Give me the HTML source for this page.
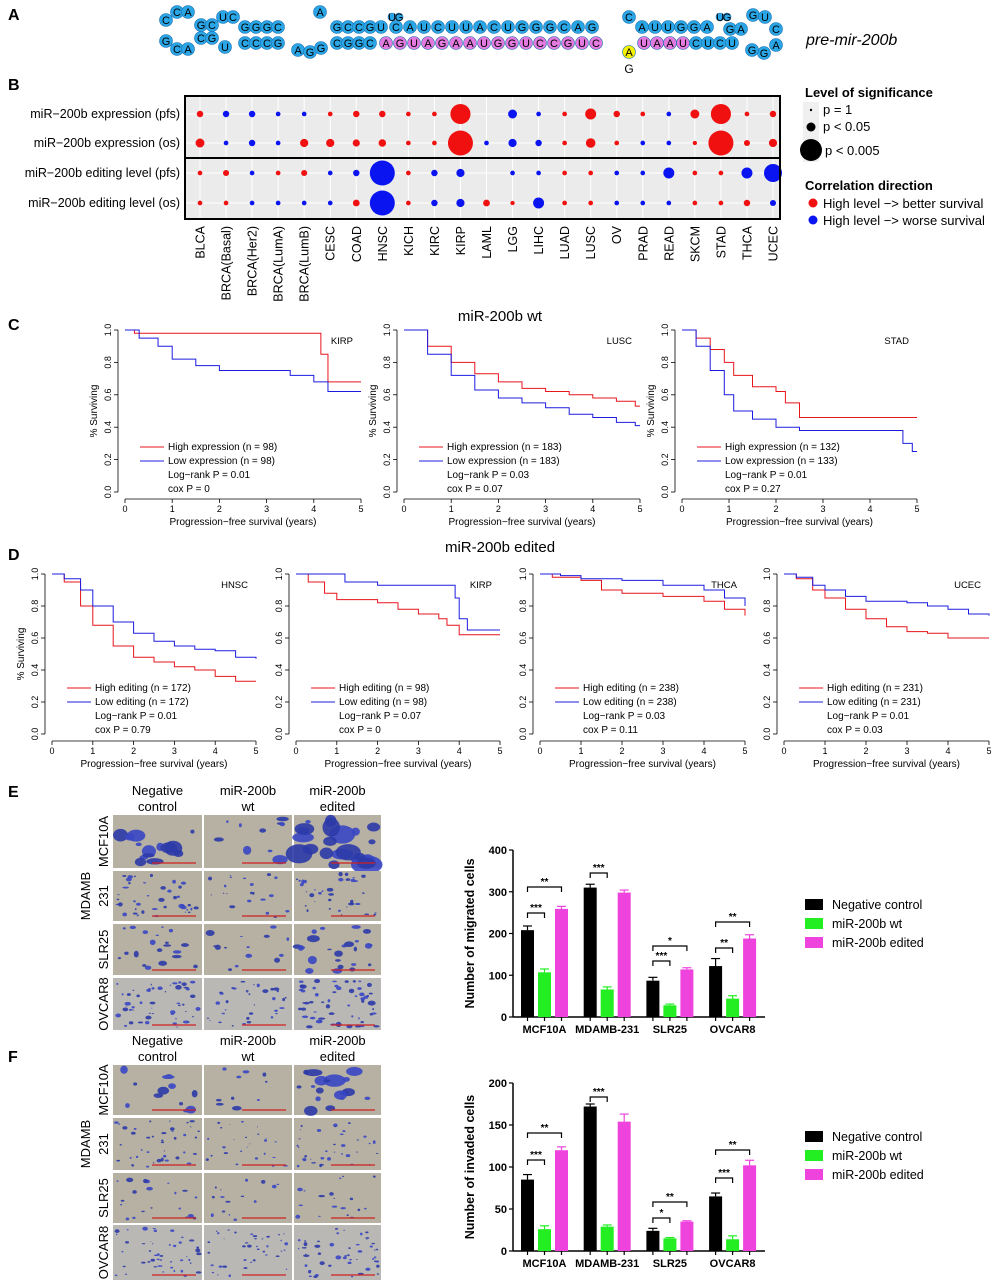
<!DOCTYPE html>
<html><head><meta charset="utf-8"><style>
html,body{margin:0;padding:0;background:#fff;width:1002px;height:1280px;overflow:hidden}
svg{display:block;font-family:"Liberation Sans",Arial,sans-serif}
</style></head><body>
<svg id="fig" width="1002" height="1280" viewBox="0 0 1002 1280" xmlns="http://www.w3.org/2000/svg"></svg>
<script>
// ---------- Panel B data ----------
const bCats = ["BLCA","BRCA(Basal)","BRCA(Her2)","BRCA(LumA)","BRCA(LumB)","CESC","COAD","HNSC","KICH","KIRC","KIRP","LAML","LGG","LIHC","LUAD","LUSC","OV","PRAD","READ","SKCM","STAD","THCA","UCEC"];
const bRows = ["miR\u2212200b expression (pfs)","miR\u2212200b expression (os)","miR\u2212200b editing level (pfs)","miR\u2212200b editing level (os)"];
const sigExpPfs = [.35,.35,.35,.1,.1,.1,.35,.35,.1,.1,2.3,0,.7,.1,.1,1,.35,.1,.1,.7,2.3,.1,.35];
const dirExpPfs = [1,-1,-1,-1,-1,1,1,1,1,1,1,0,-1,-1,1,1,1,1,-1,1,1,1,1];
const sigExpOs = [.7,.1,.35,.1,.6,.6,.45,.5,.1,.1,3,.1,.6,.35,.1,.8,.1,.1,.1,.05,3,.3,.6];
const dirExpOs = [1,-1,-1,-1,1,1,1,1,1,1,1,-1,-1,-1,1,1,1,-1,-1,1,1,1,1];
const sigEdPfs = [.1,.3,.1,.1,.3,.1,.35,3,.1,.35,.6,0,.1,.1,.1,.1,.1,.1,1,.1,.1,1,2];
const dirEdPfs = [1,1,-1,1,1,-1,-1,-1,1,-1,-1,0,-1,-1,1,1,-1,-1,-1,1,1,-1,-1];
const sigEdOs = [.1,.1,.1,.1,.1,.1,.4,3,.1,.35,.6,.4,.05,1,.1,.1,.1,.1,.1,.1,.1,.35,.3];
const dirEdOs = [1,1,-1,-1,-1,-1,1,-1,1,-1,-1,1,1,-1,1,1,-1,-1,-1,1,1,1,-1];

// ---------- KM data (time in years, survival) ----------
const kmC1RedT=[0,0.2,4.05,4.15,4.3,5], kmC1RedS=[1,0.98,0.98,0.85,0.68,0.68];
const kmC1BluT=[0,0.3,0.7,1,1.5,2,3.5,4,4.3,5], kmC1BluS=[1,0.95,0.9,0.82,0.78,0.75,0.72,0.68,0.62,0.62];
const kmC2RedT=[0,0.5,1,1.5,2,2.5,3,3.5,4,4.5,4.9,5], kmC2RedS=[1,0.9,0.8,0.73,0.68,0.64,0.62,0.6,0.58,0.56,0.53,0.53];
const kmC2BluT=[0,0.5,1,1.5,2,2.5,3,3.5,4,4.5,4.9,5], kmC2BluS=[1,0.85,0.72,0.63,0.58,0.55,0.52,0.48,0.46,0.43,0.41,0.41];
const kmC3RedT=[0,0.3,0.6,0.9,1.1,1.5,2,2.2,2.5,5], kmC3RedS=[1,0.95,0.88,0.8,0.72,0.65,0.62,0.55,0.46,0.46];
const kmC3BluT=[0,0.3,0.6,0.9,1.1,1.5,2,2.5,4.5,4.7,4.9,5], kmC3BluS=[1,0.9,0.75,0.6,0.5,0.45,0.4,0.38,0.38,0.3,0.25,0.25];
const kmD1RedT=[0,0.3,0.7,1,1.5,2,2.5,3,3.5,4,4.5,5], kmD1RedS=[1,0.95,0.8,0.68,0.55,0.48,0.45,0.42,0.4,0.36,0.33,0.33];
const kmD1BluT=[0,0.3,0.7,1,1.5,2,2.5,3,3.5,4,4.5,5], kmD1BluS=[1,0.97,0.9,0.8,0.7,0.63,0.58,0.55,0.53,0.52,0.48,0.47];
const kmD2RedT=[0,0.3,0.7,1,2,2.5,3,3.5,3.7,4,5], kmD2RedS=[1,0.95,0.88,0.84,0.82,0.78,0.75,0.72,0.68,0.62,0.62];
const kmD2BluT=[0,1.1,1.2,2,3.8,3.9,4,4.2,5], kmD2BluS=[1,1,0.95,0.93,0.93,0.85,0.72,0.65,0.65];
const kmD3RedT=[0,0.3,1,1.5,2,3,4,4.5,5], kmD3RedS=[1,0.98,0.96,0.9,0.88,0.86,0.83,0.78,0.74];
const kmD3BluT=[0,0.5,1,2,3,4,4.5,5], kmD3BluS=[1,0.99,0.97,0.96,0.93,0.9,0.85,0.8];
const kmD4RedT=[0,0.3,0.7,1,1.5,2,2.5,3,3.5,4,5], kmD4RedS=[1,0.97,0.9,0.85,0.78,0.72,0.67,0.64,0.63,0.6,0.6];
const kmD4BluT=[0,0.3,0.7,1,1.5,2,3,3.5,4,4.5,5], kmD4BluS=[1,0.98,0.93,0.9,0.86,0.83,0.82,0.8,0.78,0.75,0.74];

// ---------- Bar chart data ----------
const barCats = ["MCF10A","MDAMB-231","SLR25","OVCAR8"];
const barSeries = ["Negative control","miR-200b wt","miR-200b edited"];
const migNeg = [208,310,87,122], migWt=[107,66,28,44], migEd=[259,298,114,188];
const migNegErr=[10,8,8,18], migWtErr=[8,6,3,7], migEdErr=[6,6,4,9];
const migTicks=[0,100,200,300,400];
const invNeg = [85,172,24,65], invWt=[26,29,15,14], invEd=[120,154,35,102];
const invNegErr=[6,3,3,4], invWtErr=[4,2,1,4], invEdErr=[4,9,1,6];
const invTicks=[0,50,100,150,200];

const NS="http://www.w3.org/2000/svg";
const svg=document.getElementById('fig');
function mk(tag,attrs,name,parent){
  const el=document.createElementNS(NS,tag);
  for(const k in attrs) el.setAttribute(k,attrs[k]);
  
  
  (parent||svg).appendChild(el);
  return el;
}
function txt(x,y,s,attrs,name,parent){
  const a=Object.assign({x:x,y:y},attrs||{});
  const el=mk('text',a,name,parent);
  el.textContent=s;
  return el;
}

// ---------- Panel labels ----------
[["A",20],["B",90],["C",330],["D",560],["E",797],["F",1062]].forEach(p=>{
  txt(8,p[1],p[0],{'font-size':16,'font-weight':'bold'},'panel-label-'+p[0].toLowerCase());
});

// ---------- Panel A: hairpin ----------
(function(){
  const g=mk('g',{},'pre-mir-hairpin');
  function nuc(x,y,ch,fill,r){
    mk('circle',{cx:x,cy:y,r:r||6.5,fill:fill,stroke:'#1a6fb0','stroke-width':0.6},'nucleotide-circle',g);
    txt(x,y+4,ch,{'font-size':11,'text-anchor':'middle'},'nucleotide-letter',g);
  }
  const B='#2aa6e6',P='#e27ae0',Y='#f5f000';
  nuc(166,20,'C',B);nuc(177,12,'C',B);nuc(188,12,'A',B);
  nuc(166,41,'G',B);nuc(177,49,'C',B);nuc(188,49,'A',B);
  nuc(201,25,'G',B);nuc(212,25,'C',B);nuc(223,17,'U',B);nuc(233,17,'C',B);
  nuc(201,38,'C',B);nuc(212,38,'G',B);nuc(225,47,'U',B);
  ['G','G','G','C'].forEach((c,i)=>nuc(245+i*11,27,c,B));
  ['C','C','C','G'].forEach((c,i)=>nuc(245+i*11,43,c,B));
  nuc(320,12,'A',B);
  nuc(298,50,'A',B);nuc(310,52,'G',B);nuc(321,48,'G',B);
  ['G','C','C','G','U'].forEach((c,i)=>nuc(337+i*11,27,c,B));
  ['C','G','G','C'].forEach((c,i)=>nuc(337+i*11,43,c,B));
  nuc(392,17,'U',B,4);nuc(399,17,'G',B,4);
  'CAUCUUACUGGGCAG'.split('').forEach((c,i)=>nuc(396+i*14,27,c,B));
  'AGUAGAAUGGUCCGUC'.split('').forEach((c,i)=>nuc(386+i*14,43,c,P));
  nuc(629,17,'C',B);
  nuc(629,52,'A',Y);
  txt(629,73,'G',{'font-size':12,'text-anchor':'middle'},'edited-base-g',g);
  'AUUGGA'.split('').forEach((c,i)=>nuc(642+i*13,27,c,B));
  'UAAU'.split('').forEach((c,i)=>nuc(644+i*13,43,c,P));
  'CUCU'.split('').forEach((c,i)=>nuc(696+i*12,43,c,B));
  nuc(720,17,'U',B,4);nuc(727,17,'G',B,4);
  nuc(730,29,'G',B);nuc(741,29,'A',B);nuc(753,15,'G',B);nuc(765,17,'U',B);nuc(776,29,'C',B);
  nuc(776,45,'A',B);nuc(764,53,'G',B);nuc(752,50,'G',B);
  txt(806,45,'pre-mir-200b',{'font-size':16,'font-style':'italic'},'hairpin-title');
})();

// ---------- Panel B: dot plot ----------
(function(){
  const L=185,R=780,T=96,Bt=219;
  const cx=i=>200+i*(773-200)/(bCats.length-1);
  const rowY=[114,143,173,203];
  const rScale=v=>2+3.5*v;
  mk('rect',{x:L,y:T,width:R-L,height:Bt-T,fill:'#ebebeb'},'dotplot-background');
  bCats.forEach((c,i)=>mk('line',{x1:cx(i),x2:cx(i),y1:T,y2:Bt,stroke:'#fff','stroke-width':1},'grid-line-v'));
  rowY.forEach(y=>mk('line',{x1:L,x2:R,y1:y,y2:y,stroke:'#fff','stroke-width':1},'grid-line-h'));
  const sets=[[sigExpPfs,dirExpPfs],[sigExpOs,dirExpOs],[sigEdPfs,dirEdPfs],[sigEdOs,dirEdOs]];
  sets.forEach((s,ri)=>{
    s[0].forEach((v,i)=>{
      if(v<=0||s[1][i]===0)return;
      mk('circle',{cx:cx(i),cy:rowY[ri],r:rScale(v),fill:s[1][i]>0?'#f01010':'#0a14f0'},'dot-'+bCats[i].toLowerCase()+'-row'+(ri+1));
    });
  });
  mk('rect',{x:L,y:T,width:R-L,height:Bt-T,fill:'none',stroke:'#000','stroke-width':2},'dotplot-frame');
  mk('line',{x1:L,x2:R,y1:158,y2:158,stroke:'#000','stroke-width':2},'dotplot-divider');
  bRows.forEach((r,i)=>txt(180,rowY[i]+4,r,{'font-size':12.5,'text-anchor':'end'},'row-label'));
  bCats.forEach((c,i)=>{
    txt(0,0,c,{'font-size':12.5,'text-anchor':'end',transform:`translate(${cx(i)+4.5},226) rotate(-90)`},'column-label');
  });
  txt(805,97,'Level of significance',{'font-size':13,'font-weight':'bold'},'size-legend-title');
  mk('rect',{x:803,y:102,width:16,height:60,fill:'#f0f0f0'},'size-legend-key-bg');
  mk('circle',{cx:811,cy:110,r:1.2,fill:'#000'},'size-legend-dot');
  mk('circle',{cx:811,cy:127,r:4.5,fill:'#000'},'size-legend-dot');
  mk('circle',{cx:811,cy:150,r:11,fill:'#000'},'size-legend-dot');
  txt(823,114,'p = 1',{'font-size':13},'size-legend-label');
  txt(823,131,'p < 0.05',{'font-size':13},'size-legend-label');
  txt(825,155,'p < 0.005',{'font-size':13},'size-legend-label');
  txt(805,190,'Correlation direction',{'font-size':13,'font-weight':'bold'},'color-legend-title');
  mk('circle',{cx:813,cy:203,r:4.5,fill:'#f01010'},'color-legend-red');
  mk('circle',{cx:813,cy:220,r:4.5,fill:'#0a14f0'},'color-legend-blue');
  txt(823,208,'High level \u2212> better survival',{'font-size':13},'color-legend-label');
  txt(823,225,'High level \u2212> worse survival',{'font-size':13},'color-legend-label');
})();

// ---------- KM plots ----------
function km(x0,x5,y1,y0,cancer,red,blue,leg,ylab){
  const g=mk('g',{},'km-plot-'+cancer.toLowerCase());
  const X=t=>x0+(x5-x0)*t/5, Y=s=>y0-(y0-y1)*s;
  mk('line',{x1:x0-7,x2:x0-7,y1:Y(0),y2:Y(1),stroke:'#000','stroke-width':0.8},'y-axis',g);
  mk('line',{x1:X(0),x2:X(5),y1:y0+7,y2:y0+7,stroke:'#000','stroke-width':0.8},'x-axis',g);
  [0,0.2,0.4,0.6,0.8,1].forEach(v=>{
    mk('line',{x1:x0-11,x2:x0-7,y1:Y(v),y2:Y(v),stroke:'#000','stroke-width':0.8},'y-tick',g);
    txt(0,0,v.toFixed(1),{'font-size':9,'text-anchor':'middle',transform:`translate(${x0-14},${Y(v)}) rotate(-90)`},'y-tick-label',g);
  });
  [0,1,2,3,4,5].forEach(v=>{
    mk('line',{x1:X(v),x2:X(v),y1:y0+7,y2:y0+11,stroke:'#000','stroke-width':0.8},'x-tick',g);
    txt(X(v),y0+20,String(v),{'font-size':9,'text-anchor':'middle'},'x-tick-label',g);
  });
  txt((x0+x5)/2,y0+33,'Progression\u2212free survival (years)',{'font-size':10,'text-anchor':'middle'},'x-axis-title',g);
  if(ylab) txt(0,0,'% Surviving',{'font-size':10,'text-anchor':'middle',transform:`translate(${x0-28},${(y0+y1)/2}) rotate(-90)`},'y-axis-title',g);
  function step(T,S,col,name){
    let d=`M${X(T[0])},${Y(S[0])}`;
    for(let i=1;i<T.length;i++) d+=`H${X(T[i])}V${Y(S[i])}`;
    mk('path',{d:d,fill:'none',stroke:col,'stroke-width':1},name,g);
  }
  step(red[0],red[1],'#e8141c','km-curve-high');
  step(blue[0],blue[1],'#1c1ce0','km-curve-low');
  txt(x5-8,Y(1)+14,cancer,{'font-size':9.5,'text-anchor':'end'},'cancer-label',g);
  const lx=x0+15, ly=leg.y;
  mk('line',{x1:lx,x2:lx+24,y1:ly-3,y2:ly-3,stroke:'#e8141c'},'legend-line-high',g);
  mk('line',{x1:lx,x2:lx+24,y1:ly+11,y2:ly+11,stroke:'#1c1ce0'},'legend-line-low',g);
  leg.lines.forEach((s,i)=>txt(lx+28,ly+i*14,s,{'font-size':10},'legend-text',g));
}
txt(500,321,'miR-200b wt',{'font-size':15,'text-anchor':'middle'},'panel-c-title');
txt(500,552,'miR-200b edited',{'font-size':15,'text-anchor':'middle'},'panel-d-title');
km(125,361,330,492,'KIRP',[kmC1RedT,kmC1RedS],[kmC1BluT,kmC1BluS],{y:450,lines:['High expression (n = 98)','Low expression (n = 98)','Log\u2212rank P = 0.01','cox P = 0']},true);
km(404,640,330,492,'LUSC',[kmC2RedT,kmC2RedS],[kmC2BluT,kmC2BluS],{y:450,lines:['High expression (n = 183)','Low expression (n = 183)','Log\u2212rank P = 0.03','cox P = 0.07']},true);
km(682,917,330,492,'STAD',[kmC3RedT,kmC3RedS],[kmC3BluT,kmC3BluS],{y:450,lines:['High expression (n = 132)','Low expression (n = 133)','Log\u2212rank P = 0.01','cox P = 0.27']},true);
km(52,256,574,734,'HNSC',[kmD1RedT,kmD1RedS],[kmD1BluT,kmD1BluS],{y:691,lines:['High editing (n = 172)','Low editing (n = 172)','Log\u2212rank P = 0.01','cox P = 0.79']},true);
km(296,500,574,734,'KIRP',[kmD2RedT,kmD2RedS],[kmD2BluT,kmD2BluS],{y:691,lines:['High editing (n = 98)','Low editing (n = 98)','Log\u2212rank P = 0.07','cox P = 0']},false);
km(540,745,574,734,'THCA',[kmD3RedT,kmD3RedS],[kmD3BluT,kmD3BluS],{y:691,lines:['High editing (n = 238)','Low editing (n = 238)','Log\u2212rank P = 0.03','cox P = 0.11']},false);
km(784,989,574,734,'UCEC',[kmD4RedT,kmD4RedS],[kmD4BluT,kmD4BluS],{y:691,lines:['High editing (n = 231)','Low editing (n = 231)','Log\u2212rank P = 0.01','cox P = 0.03']},false);

// ---------- Micrographs ----------
let seed=7;
function rnd(){seed=(seed*16807)%2147483647;return seed/2147483647;}
function micro(top,rows,hy,tag){
  const cols=[[113,202],[204,292],[294,381]];
  const heads=[['Negative','control'],['miR-200b','wt'],['miR-200b','edited']];
  heads.forEach((h,i)=>{
    const c=(cols[i][0]+cols[i][1])/2;
    txt(c,hy,h[0],{'font-size':13,'text-anchor':'middle'},'micrograph-column-header');
    txt(c,hy+16,h[1],{'font-size':13,'text-anchor':'middle'},'micrograph-column-header');
  });
  const dens=tag==='e'?[[14,10,22],[40,20,35],[20,14,24],[50,35,55]]:[[12,10,18],[40,25,35],[20,16,18],[45,40,50]];
  const big=tag==='e'?[[1,0.7,1.4],[0.3,0.25,0.3],[0.45,0.4,0.55],[0.3,0.25,0.35]]:[[0.7,0.4,1.0],[0.25,0.22,0.25],[0.35,0.3,0.3],[0.25,0.22,0.3]];
  rows.forEach((r,ri)=>{
    cols.forEach((c,ci)=>{
      const g=mk('g',{},'micrograph-'+tag+'-r'+ri+'-c'+ci);
      mk('rect',{x:c[0],y:r[0],width:c[1]-c[0],height:r[1]-r[0],fill:ri===3?'#b9b8b4':'#b6b1a2'},'micrograph-bg',g);
      const n=dens[ri][ci];
      for(let k=0;k<n;k++){
        const w=c[1]-c[0]-6,h=r[1]-r[0]-6;
        const s=big[ri][ci]*(2+rnd()*5);
        mk('ellipse',{cx:c[0]+3+rnd()*w,cy:r[0]+3+rnd()*h,rx:s*(0.8+rnd()),ry:s*(0.5+rnd()*0.7),fill:rnd()<0.5?'#3a47c4':'#2c3aa8',opacity:0.9},'cell-blob',g);
      }
      mk('line',{x1:c[1]-50,x2:c[1]-6,y1:r[1]-5,y2:r[1]-5,stroke:'#d02020','stroke-width':1.2},'scale-bar',g);
    });
  });
  const labs=['MCF10A','231','SLR25','OVCAR8'];
  rows.forEach((r,ri)=>{
    txt(0,0,labs[ri],{'font-size':13,'text-anchor':'middle',transform:`translate(${108},${(r[0]+r[1])/2}) rotate(-90)`},'micrograph-row-label');
  });
  txt(0,0,'MDAMB',{'font-size':13,'text-anchor':'middle',transform:`translate(90,${(rows[1][0]+rows[1][1])/2}) rotate(-90)`},'micrograph-row-label');
}
micro(815,[[815,868],[871,921],[924,975],[978,1030]],795,'e');
micro(1065,[[1065,1115],[1118,1170],[1173,1223],[1225,1280]],1045,'f');

// ---------- Bar charts ----------
function bars(yTop,yZero,maxV,ticks,neg,wt,ed,ne,we,ee,ylabel,brackets,legY,tag){
  const g=mk('g',{},'bar-chart-'+tag);
  const ax=513, axEnd=765;
  const Y=v=>yZero-(yZero-yTop)*v/maxV;
  const gx=i=>521+i*62.7;
  const bw=13, off=[0,17,34];
  const cols=['#000','#22ee22','#ee44dd'];
  mk('line',{x1:ax,x2:ax,y1:yTop,y2:yZero,stroke:'#000','stroke-width':1.5},'y-axis',g);
  mk('line',{x1:ax,x2:axEnd,y1:yZero,y2:yZero,stroke:'#000','stroke-width':1.5},'x-axis',g);
  ticks.forEach(t=>{
    mk('line',{x1:ax-4,x2:ax,y1:Y(t),y2:Y(t),stroke:'#000','stroke-width':1.2},'y-tick',g);
    txt(ax-6,Y(t)+4,String(t),{'font-size':11,'font-weight':'bold','text-anchor':'end'},'y-tick-label',g);
  });
  txt(0,0,ylabel,{'font-size':12.5,'font-weight':'bold','text-anchor':'middle',transform:`translate(474,${(yTop+yZero)/2}) rotate(-90)`},'y-axis-title',g);
  const series=[[neg,ne],[wt,we],[ed,ee]];
  barCats.forEach((c,i)=>{
    series.forEach((s,si)=>{
      const x=gx(i)+off[si], v=s[0][i], e=s[1][i];
      mk('line',{x1:x+bw/2,x2:x+bw/2,y1:Y(v),y2:Y(v+e),stroke:cols[si],'stroke-width':1.2},'error-bar',g);
      mk('line',{x1:x+2,x2:x+bw-2,y1:Y(v+e),y2:Y(v+e),stroke:cols[si],'stroke-width':1.2},'error-cap',g);
      mk('rect',{x:x,y:Y(v),width:bw,height:yZero-Y(v),fill:cols[si]},'bar-'+c.toLowerCase()+'-'+si,g);
      mk('line',{x1:x+bw/2,x2:x+bw/2,y1:yZero,y2:yZero+4,stroke:'#000','stroke-width':1.2},'x-tick',g);
    });
    txt(gx(i)+off[1]+bw/2,yZero+16,c,{'font-size':11,'font-weight':'bold','text-anchor':'middle'},'x-tick-label',g);
  });
  brackets.forEach(b=>{
    const x1=gx(b[0])+off[0]+bw/2, x2=gx(b[0])+off[b[1]]+bw/2, y=b[2];
    mk('path',{d:`M${x1},${y+5}V${y}H${x2}V${y+5}`,fill:'none',stroke:'#000','stroke-width':1.2},'significance-bracket',g);
    txt((x1+x2)/2,y-2,b[3],{'font-size':10,'font-weight':'bold','text-anchor':'middle'},'significance-stars',g);
  });
  barSeries.forEach((s,i)=>{
    mk('rect',{x:805,y:legY+i*19-7,width:18,height:11,fill:cols[i]},'legend-swatch',g);
    txt(832,legY+i*19+3,s,{'font-size':12.5},'legend-label',g);
  });
}
bars(850,1017,400,migTicks,migNeg,migWt,migEd,migNegErr,migWtErr,migEdErr,'Number of migrated cells',
  [[0,1,913,'***'],[0,2,887,'**'],[1,1,873,'***'],[2,1,961,'***'],[2,2,946,'*'],[3,1,948,'**'],[3,2,922,'**']],906,'migration');
bars(1083,1251,200,invTicks,invNeg,invWt,invEd,invNegErr,invWtErr,invEdErr,'Number of invaded cells',
  [[0,1,1160,'***'],[0,2,1133,'**'],[1,1,1097,'***'],[2,1,1218,'*'],[2,2,1202,'**'],[3,1,1178,'***'],[3,2,1150,'**']],1138,'invasion');
</script>
</body></html>
